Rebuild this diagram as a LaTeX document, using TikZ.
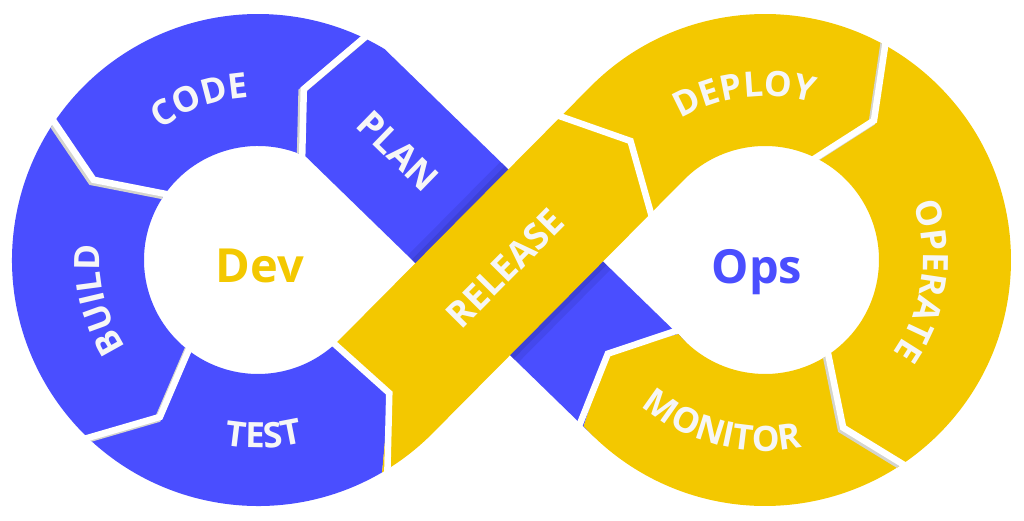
\documentclass[tikz,border=0pt]{standalone}
\usepackage{fontspec}
\setmainfont{Open Sans}
\usetikzlibrary{calc,decorations.text}
\definecolor{devblue}{RGB}{74,78,255}
\definecolor{opsyellow}{RGB}{243,200,0}
\definecolor{labelwhite}{RGB}{246,246,246}
\definecolor{gapgray}{RGB}{212,212,206}
\newcommand{\seglab}{\fontsize{35}{35}\selectfont\bfseries}
\newcommand{\straightlab}{\fontsize{36}{36}\selectfont\bfseries}
\begin{document}
\begin{tikzpicture}[x=1pt,y=1pt,
  gapline/.style={draw=white,line width=6.5pt,line join=miter,line cap=butt},
  gapshade/.style={draw=gapgray,line width=6.5pt,line join=miter,line cap=butt},
  seglabel/.style={font=\straightlab,text=labelwhite,inner sep=0pt},
  biglabel/.style={font=\fontsize{47}{47}\selectfont\bfseries,inner sep=0pt,anchor=base},
  arclabel/.style={decorate,decoration={text along path,text align=center,text color=labelwhite,text={|\seglab|#1}}}]
\useasboundingbox (0,0) rectangle (1024,521);
\coordinate (L) at (258,261);
\coordinate (R) at (765,261);

% ---------- blue part (Dev loop + PLAN strip)
\fill[devblue]
  ($(R)+(220.5:114)$) -- ($(R)+(210.8:183)$) -- ($(R)+(222.5:246)$)
  arc[start angle=222.5,end angle=225.8,radius=246]
  -- ($(L)+(65.29:114)$)
  arc[start angle=65.29,end angle=311.8,radius=114]
  -- ($(L)+(314.6:187)$) -- ($(L)+(300.3:246)$)
  arc[start angle=300.3,end angle=59.04,radius=246]
  -- ($(R)+(225.8:114)$)
  arc[start angle=225.8,end angle=220.5,radius=114]
  -- cycle;

% ---------- shadow of the RELEASE strip on the PLAN strip
\begin{scope}
  \clip ($(L)+(65.29:114)$) -- ($(R)+(225.8:246)$) -- ($(R)+(225.8:114)$) -- ($(L)+(59.04:246)$) -- cycle;
  \draw[black,opacity=0.07,line width=22pt,line join=round]
    ($(L)+(315.24:114)$) -- ($(R)+(135.24:246)$) -- ($(R)+(135.24:114)$) -- ($(L)+(315.24:246)$) -- cycle;
  \draw[black,opacity=0.09,line width=10pt,line join=round]
    ($(L)+(315.24:114)$) -- ($(R)+(135.24:246)$) -- ($(R)+(135.24:114)$) -- ($(L)+(315.24:246)$) -- cycle;
\end{scope}

% ---------- yellow part (RELEASE strip + Ops loop)
\fill[opsyellow]
  ($(L)+(300.3:246)$) -- ($(L)+(314.6:187)$) -- ($(L)+(311.8:114)$)
  arc[start angle=311.8,end angle=315.24,radius=114]
  -- ($(R)+(135.24:246)$)
  arc[start angle=135.24,end angle=-137.5,radius=246]
  -- ($(R)+(-149.2:183)$) -- ($(R)+(-139.5:114)$)
  arc[start angle=-139.5,end angle=135.24,radius=114]
  -- ($(L)+(-44.76:246)$)
  arc[start angle=-44.76,end angle=-59.7,radius=246]
  -- cycle;

% ---------- grey relief of the gaps inside the rings
\begin{scope}
  \clip ($(L)+(0:246)$) arc[start angle=0,end angle=360,radius=246]
     -- ($(L)+(0:114)$) arc[start angle=360,end angle=0,radius=114] -- cycle;
  \begin{scope}[transform canvas={shift={(-2.2pt,-2.2pt)}}]
    \draw[gapshade] ($(L)+(63.5:256)$) -- ($(L)+(75:177)$) -- ($(L)+(65:104)$);
    \draw[gapshade] ($(L)+(145:256)$) -- ($(L)+(154:183)$) -- ($(L)+(142:104)$);
    \draw[gapshade] ($(L)+(225:256)$) -- ($(L)+(238:185)$) -- ($(L)+(231:104)$);
  \end{scope}
\end{scope}
\begin{scope}
  \clip ($(R)+(0:246)$) arc[start angle=0,end angle=360,radius=246]
     -- ($(R)+(0:114)$) arc[start angle=360,end angle=0,radius=114] -- cycle;
  \begin{scope}[transform canvas={shift={(-2.2pt,-2.2pt)}}]
    \draw[gapshade] ($(R)+(61.6:256)$) -- ($(R)+(52:177)$) -- ($(R)+(67:104)$);
    \draw[gapshade] ($(R)+(-55:256)$) -- ($(R)+(-65:185)$) -- ($(R)+(-54:104)$);
  \end{scope}
\end{scope}

% ---------- white gaps between the stages
\draw[gapline] ($(L)+(63.5:256)$) -- ($(L)+(75:177)$) -- ($(L)+(65:104)$);
\draw[gapline] ($(L)+(145:256)$) -- ($(L)+(154:183)$) -- ($(L)+(142:104)$);
\draw[gapline] ($(L)+(225:256)$) -- ($(L)+(238:185)$) -- ($(L)+(231:104)$);
\draw[gapline] ($(L)+(300.3:256)$) -- ($(L)+(314.6:187)$) -- ($(L)+(311.8:104)$);
\draw[gapline] (555,406.5) -- (630.5,380) -- (652.5,302);
\draw[gapline] ($(R)+(61.6:256)$) -- ($(R)+(52:177)$) -- ($(R)+(67:104)$);
\draw[gapline] ($(R)+(-55:256)$) -- ($(R)+(-65:185)$) -- ($(R)+(-54:104)$);
\draw[gapline] ($(R)+(222.5:256)$) -- ($(R)+(210.8:183)$) -- ($(R)+(220.5:104)$);

% ---------- stage labels
\path[arclabel=CODE] ($(L)+(150:163)$) arc[start angle=150,end angle=70,radius=163];
\path[arclabel=BUILD] ($(L)+(234:158)$) arc[start angle=234,end angle=154,radius=158];
\path[arclabel=TEST] ($(L)+(-128:188)$) arc[start angle=-128,end angle=-48,radius=188];
\path[arclabel=DEPLOY] ($(R)+(137:164)$) arc[start angle=137,end angle=57,radius=164];
\path[arclabel=OPERATE] ($(R)+(33:158)$) arc[start angle=33,end angle=-48,radius=158];
\path[arclabel=MONITOR] ($(R)+(215:191)$) arc[start angle=215,end angle=296,radius=191];
\node[seglabel,rotate=-44.2] (plan) at (398,370) {PLAN};
\node[seglabel,rotate=45.24] (release) at (505,253) {RELEASE};

% ---------- loop names
\node[biglabel,text=opsyellow] (dev) at (260,238) {Dev};
\node[biglabel,text=devblue] (ops) at (757,237) {Ops};
\end{tikzpicture}
\end{document}
